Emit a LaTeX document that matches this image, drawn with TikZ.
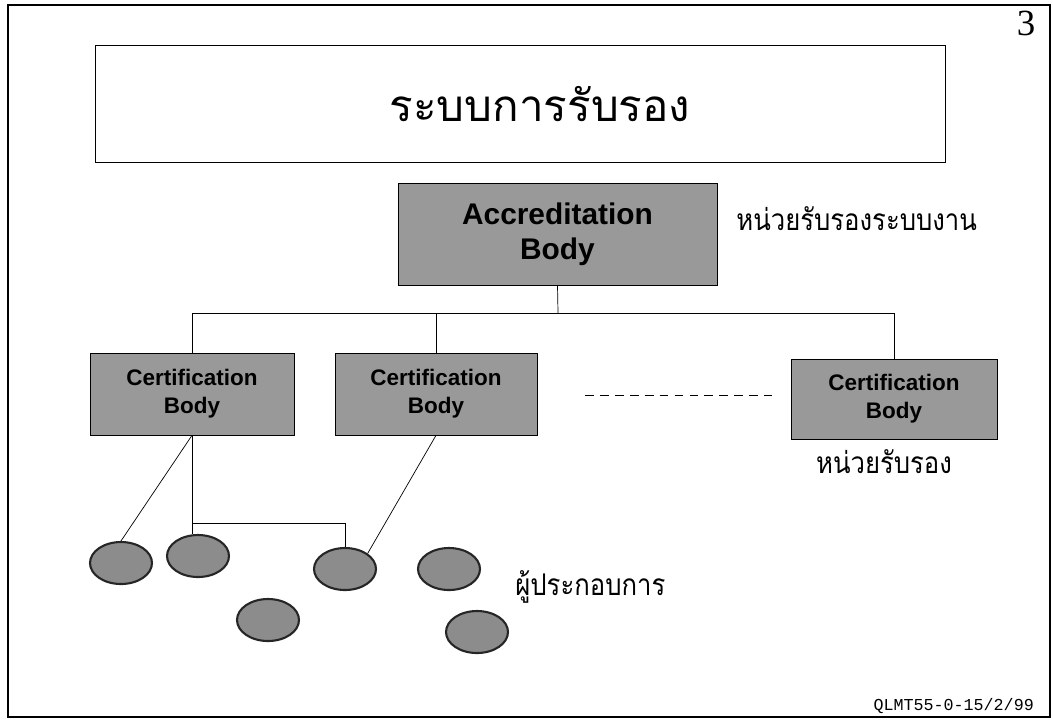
\documentclass[tikz,border=0pt]{standalone}
\usepackage{fontspec}
\setmainfont{Liberation Serif}
\setsansfont{Liberation Sans}
\setmonofont{Liberation Mono}
\newfontfamily\thaifont[Script=Thai, FakeStretch=0.86]{Loma}
\newfontfamily\thaihead[Script=Thai]{Loma}
\usetikzlibrary{positioning,shapes.geometric}

\tikzset{
  body/.style={draw, fill=black!40, font=\sffamily\bfseries, align=center, inner sep=0pt},
  firm/.style={ellipse, draw=black!85, line width=1.2pt, fill=black!45,
    minimum width=1.24cm, minimum height=0.84cm, inner sep=0pt},
  thailabel/.style={font=\thaifont\fontsize{17}{20}\selectfont, inner sep=0pt}
}

\begin{document}
\begin{tikzpicture}[x=0.02cm, y=-0.02cm]
	    \tikzset{>=latex}
	    \useasboundingbox (0,0) rectangle (1053,721);
	    % page frame and number
	    \draw[line width=0.9pt] (8,5) rectangle (1050,717);
	    \node (pagenum) at (1026,23) {\fontsize{21}{21}\selectfont 3};
	    % heading
	    \node[draw, minimum width=17cm, minimum height=2.34cm] (title) at (520,103.5) {};
	    \node[font=\thaihead\fontsize{25}{28}\selectfont] (titletext) at (540,104) {ระบบการรับรอง};
	    % accreditation body and the certification bodies
	    \node[body, minimum width=6.38cm, minimum height=2.04cm, font=\sffamily\bfseries\fontsize{17}{20}\selectfont] (ab) at (557.5,234) {Accreditation\\Body};
	    \node[thailabel, anchor=west] (ablabel) at (736,219) {หน่วยรับรองระบบงาน};
	    \node[body, minimum width=4.08cm, minimum height=1.64cm, font=\sffamily\bfseries\fontsize{12.8}{16}\selectfont] (cb1) at (192,394) {Certification\\Body};
	    \node[body, minimum width=4.04cm, minimum height=1.64cm, font=\sffamily\bfseries\fontsize{12.8}{16}\selectfont] (cb2) at (436,394) {Certification\\Body};
	    \node[body, minimum width=4.12cm, minimum height=1.60cm, font=\sffamily\bfseries\fontsize{12.8}{16}\selectfont] (cb3) at (894,399) {Certification\\Body};
	    \node[thailabel, below=5.5pt of cb3, xshift=-0.2cm] (cblabel) {หน่วยรับรอง};
	    \coordinate (bus) at (558,313);
	    \draw (ab.south) -- (bus);
	    \draw (cb1.north) |- (bus) -| (cb3.north);
	    \draw (cb2.north) -- (cb2.north |- bus);
	    \coordinate (dotsL) at (585,395);
	    \coordinate (dotsR) at (772,395);
	    \draw[dash pattern=on 5pt off 3.5pt] (dotsL) -- (dotsR);
	    % operators
	    \node[firm] (f1) at (121,563) {};
	    \node[firm] (f2) at (198,556) {};
	    \node[firm] (f3) at (345,569) {};
	    \node[firm] (f4) at (449,569) {};
	    \node[firm] (f5) at (268,620) {};
	    \node[firm] (f6) at (477,632) {};
	    \node[thailabel, anchor=west] (firmlabel) at (515,587) {ผู้ประกอบการ};
	    \coordinate (fbus) at (346,523);
	    \draw (cb1.south) -- (f1.north);
	    \draw (cb1.south) -- (cb1.south |- f2.north);
	    \draw (cb1.south |- fbus) -| (f3.north);
	    \draw (cb2.south) -- (f3.north east);
	    % form number
	    \node[anchor=east, font=\ttfamily\fontsize{9.5}{11}\selectfont] (formno) at (1040,706) {QLMT55-0-15/2/99};
	\end{tikzpicture}
\end{document}
